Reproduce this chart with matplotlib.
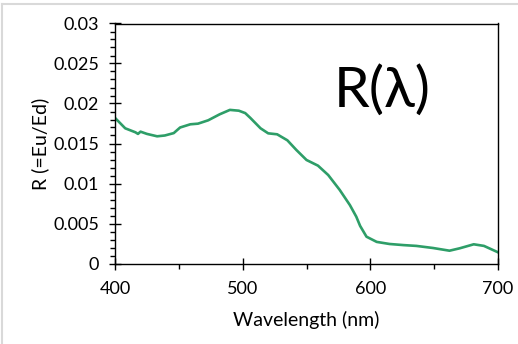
import matplotlib
matplotlib.use("Agg")
from matplotlib import pyplot as plt
from matplotlib.lines import Line2D
from matplotlib.ticker import MultipleLocator

# reflectance spectrum
wavelength = [400, 408, 416, 418, 420, 425, 433, 439, 446, 451, 459, 465, 473, 482,
              490, 497, 502, 506, 514, 520, 527, 535, 542, 550, 559, 567, 576, 584,
              589, 592, 597, 605, 615, 626, 636, 649, 662, 670, 681, 689, 700]
reflectance = [0.0182, 0.0169, 0.0164, 0.0162, 0.01648, 0.0162, 0.0159, 0.0160, 0.0163,
               0.0170, 0.0174, 0.01748, 0.0179, 0.01865, 0.0192, 0.0191, 0.0188, 0.0182,
               0.0169, 0.01627, 0.01615, 0.0154, 0.0142, 0.01294, 0.01223, 0.01106,
               0.0092, 0.0073, 0.00585, 0.0047, 0.00335, 0.0027, 0.00244, 0.0023,
               0.0022, 0.00194, 0.0016, 0.0019, 0.0024, 0.0022, 0.0014]

plt.rcParams['font.family'] = ['Lato', 'DejaVu Sans']

fig = plt.figure(figsize=(5.18, 3.44), dpi=100)
ax = fig.add_axes([115/518, 1-263.5/344, 383/518, 240/344])

ax.plot(wavelength, reflectance, color='#2e9e68', lw=1.9)

ax.set_xlim(400, 700)
ax.set_ylim(0, 0.03)
ax.xaxis.set_major_locator(MultipleLocator(100))
ax.xaxis.set_minor_locator(MultipleLocator(50))
ax.yaxis.set_minor_locator(MultipleLocator(0.001))
ax.set_yticks([0, 0.005, 0.01, 0.015, 0.02, 0.025, 0.03],
              ['0', '0.005', '0.01', '0.015', '0.02', '0.025', '0.03'])
ax.tick_params(which='major', direction='inout', length=9, width=1, labelsize=13)
ax.tick_params(axis='x', which='major', pad=8)
ax.tick_params(axis='y', which='major', pad=7)
ax.tick_params(which='minor', direction='out', length=3.6, width=1)
for s in ax.spines.values():
    s.set_linewidth(1)

ax.set_xlabel('Wavelength (nm)', fontsize=14, labelpad=10)
ax.set_ylabel('R (=Eu/Ed)', fontsize=14, labelpad=3)

ax.text(0.697, 0.653, 'R(λ)', transform=ax.transAxes, fontsize=41,
        ha='center', va='baseline', family=['Lato', 'DejaVu Serif'])

# light grey chart-area frame; only its top and left edges fall inside the image
fig.add_artist(Line2D([1.5/518, 1.5/518], [0, 1-4/344], transform=fig.transFigure,
                      color='#d9d9d9', lw=1.5))
fig.add_artist(Line2D([1.5/518, 1], [1-4/344, 1-4/344], transform=fig.transFigure,
                      color='#d9d9d9', lw=1.5))

fig.savefig('out.png', dpi=100)
